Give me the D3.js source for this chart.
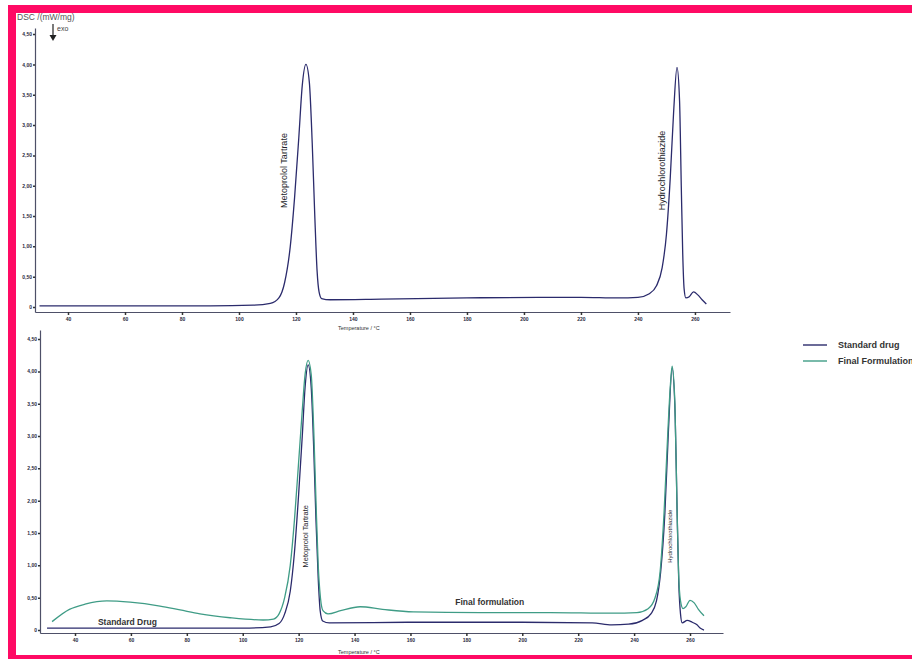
<!DOCTYPE html>
<html>
<head>
<meta charset="utf-8">
<script src="https://cdn.jsdelivr.net/npm/d3@7"></script>
<style>
  body { margin: 0; background: #fff; }
  svg { display: block; font-family: "Liberation Sans", Arial, sans-serif; }
</style>
</head>
<body>
<svg class="dsc" width="912" height="659"></svg>
<script>
// tick values
const tempTicks = [40, 60, 80, 100, 120, 140, 160, 180, 200, 220, 240, 260];
const dscTicks = [0, 0.5, 1, 1.5, 2, 2.5, 3, 3.5, 4, 4.5];

// top panel : standard drug  [temperature °C, DSC mW/mg]
const stdTop = [
  [30,0.02],[60,0.02],[90,0.02],[105,0.03],[111,0.06],[114,0.15],[116,0.4],[118,1.0],
  [119.5,1.8],[121,2.8],[122.2,3.65],[123.5,4.0],[124.7,3.7],[125.7,2.7],[126.6,1.5],
  [127.4,0.6],[128.1,0.25],[129,0.14],[132,0.12],[150,0.13],[180,0.15],[205,0.16],
  [220,0.16],[233,0.15],[240,0.16],[244,0.22],[246.5,0.35],[248.5,0.65],[250,1.2],
  [251.3,2.1],[252.5,3.2],[253.7,3.95],[254.6,3.4],[255.2,2.0],[255.7,0.9],[256.2,0.3],
  [256.8,0.15],[258,0.17],[259.5,0.25],[261,0.2],[262.5,0.12],[264,0.05]
];

// bottom panel : standard drug
const stdBottom = [
  [30,0.03],[60,0.03],[100,0.03],[110,0.05],[113,0.1],[115,0.25],[117,0.6],[118.5,1.2],
  [120,2.1],[121.3,3.0],[122.3,3.75],[123.4,4.1],[124.5,3.75],[125.4,2.8],[126.2,1.7],
  [127,0.8],[127.7,0.3],[128.6,0.14],[131,0.11],[160,0.12],[200,0.12],[225,0.11],
  [232,0.08],[238,0.09],[243,0.15],[246,0.25],[248,0.45],[249.5,0.9],[251,1.8],
  [252.3,3.1],[253.6,4.05],[254.7,3.3],[255.4,1.8],[256,0.7],[256.6,0.25],[257.2,0.11],
  [259,0.15],[260.8,0.12],[262.5,0.08],[263.6,0.03],[265,0.0]
];

// bottom panel : final formulation
const finalBottom = [
  [31.8,0.13],[38,0.32],[43.6,0.4],[51.4,0.45],[59.7,0.43],[70.4,0.37],[77.6,0.31],
  [84.7,0.25],[95.5,0.19],[107.3,0.155],[111,0.17],[113,0.25],[115,0.5],[117,1.0],
  [118.5,1.7],[120,2.6],[121.3,3.4],[122.3,3.95],[123.4,4.17],[124.5,3.95],[125.4,3.1],
  [126.2,2.0],[127,1.0],[127.8,0.5],[128.7,0.3],[130.5,0.25],[135,0.3],[142,0.36],
  [150,0.32],[161,0.28],[185,0.27],[210,0.27],[232,0.26],[241,0.27],[245,0.33],
  [247.5,0.5],[249.3,0.9],[250.7,1.8],[252,3.0],[253,3.8],[253.6,4.08],[254.6,3.5],
  [255.3,2.0],[255.9,0.9],[256.6,0.45],[257.5,0.33],[258.5,0.36],[260,0.46],[261.5,0.42],
  [263,0.32],[265,0.22]
];

const legendNames = ["Standard drug", "Final Formulation"];

let svg = d3.select(".dsc"),
    blue = "#2b2b6c",
    green = "#3f9c86",
    axisColor = "#4e5068";

// magenta frame
svg.append("rect").attr("x", 8).attr("y", 5).attr("width", 904).attr("height", 8).attr("fill", "#ff0a64");
svg.append("rect").attr("x", 8).attr("y", 5).attr("width", 8).attr("height", 654).attr("fill", "#ff0a64");
svg.append("rect").attr("x", 8).attr("y", 655).attr("width", 904).attr("height", 4).attr("fill", "#ff0a64");

let fmt = v => v === 0 ? "0" : v.toFixed(2).replace(".", ",");

function panel(xr, yr, xd, yd) {
  let x = d3.scaleLinear().domain(xd).range(xr),
      y = d3.scaleLinear().domain(yd).range(yr);
  let g = svg.append("g");
  g.append("g")
    .attr("transform", "translate(0," + yr[0] + ")")
    .call(d3.axisBottom(x).tickValues(tempTicks).tickSize(3).tickSizeOuter(0).tickPadding(2))
    .call(styleAxis);
  g.append("g")
    .attr("transform", "translate(" + xr[0] + ",0)")
    .call(d3.axisLeft(y).tickValues(dscTicks).tickFormat(fmt).tickSize(2).tickSizeOuter(0).tickPadding(1))
    .call(styleAxis);
  g.x = x; g.y = y;
  return g;
}

function styleAxis(a) {
  a.select(".domain").attr("stroke", axisColor).attr("stroke-width", 1.2);
  a.selectAll(".tick line").attr("stroke", "#333").attr("stroke-width", 1.5);
  a.selectAll(".tick text")
    .attr("fill", "#2a2a40")
    .attr("font-size", 5)
    .attr("font-weight", "bold")
    .attr("font-family", "'Liberation Sans', Arial, sans-serif");
}

function drawLine(g, data, color) {
  let line = d3.line()
    .x(d => g.x(d[0]))
    .y(d => g.y(d[1]))
    .curve(d3.curveMonotoneX);
  g.append("path")
    .datum(data)
    .attr("d", line)
    .attr("fill", "none")
    .attr("stroke", color)
    .attr("stroke-width", 1.3);
}

function vLabel(g, t, v, txt, size) {
  g.append("text")
    .attr("transform", "translate(" + g.x(t) + "," + g.y(v) + ") rotate(-90)")
    .attr("text-anchor", "middle")
    .attr("font-size", size)
    .attr("fill", "#1e1e2a")
    .text(txt);
}

function note(g, x, y, txt) {
  g.append("text").attr("x", x).attr("y", y)
    .attr("font-size", 8.5).attr("font-weight", "bold")
    .attr("fill", "#333").text(txt);
}

// top panel
let topPanel = panel([35, 730], [312, 28], [28.42, 272.3], [-0.082, 4.6]);
drawLine(topPanel, stdTop, blue);
vLabel(topPanel, 116.8, 2.25, "Metoprolol Tartrate", 9);
vLabel(topPanel, 249.6, 2.25, "Hydrochlorothiazide", 9);
topPanel.append("text").attr("x", 338).attr("y", 330)
  .attr("font-size", 5.5).attr("fill", "#333").text("Temperature / °C");

svg.append("text").attr("x", 17).attr("y", 20)
  .attr("font-size", 8.5).attr("fill", "#555").text("DSC /(mW/mg)");
svg.append("line").attr("x1", 53).attr("y1", 24).attr("x2", 53).attr("y2", 36)
  .attr("stroke", "#222").attr("stroke-width", 1.2);
svg.append("path").attr("d", "M49.5,35 L56.5,35 L53,41 Z").attr("fill", "#222");
svg.append("text").attr("x", 57).attr("y", 31)
  .attr("font-size", 7).attr("fill", "#444").text("exo");

// bottom panel
let botPanel = panel([40, 723], [633, 330], [27.48, 271.8], [-0.046, 4.64]);
drawLine(botPanel, stdBottom, blue);
drawLine(botPanel, finalBottom, green);
vLabel(botPanel, 123.2, 1.45, "Metoprolol Tartrate", 7.5);
vLabel(botPanel, 253.6, 1.45, "Hydrochlorothiazide", 6);
note(botPanel, botPanel.x(48.2), botPanel.y(0.07), "Standard Drug");
note(botPanel, botPanel.x(176), botPanel.y(0.38), "Final formulation");
botPanel.append("text").attr("x", 338).attr("y", 654)
  .attr("font-size", 5.5).attr("fill", "#333").text("Temperature / °C");

// legend
let legend = svg.append("g").attr("transform", "translate(803,345)");
legend.selectAll("g")
  .data(legendNames)
  .enter()
  .append("g")
  .attr("transform", (d, i) => "translate(0," + i * 16 + ")")
  .each(function(d, i) {
    let s = d3.select(this);
    s.append("line").attr("x1", 0).attr("x2", 24).attr("y1", 0).attr("y2", 0)
      .attr("stroke", i ? green : blue).attr("stroke-width", 1.4);
    s.append("text").attr("x", 35).attr("y", 3)
      .attr("font-size", 9).attr("font-weight", "bold")
      .attr("fill", "#333").text(d);
  });
</script>
</body>
</html>
